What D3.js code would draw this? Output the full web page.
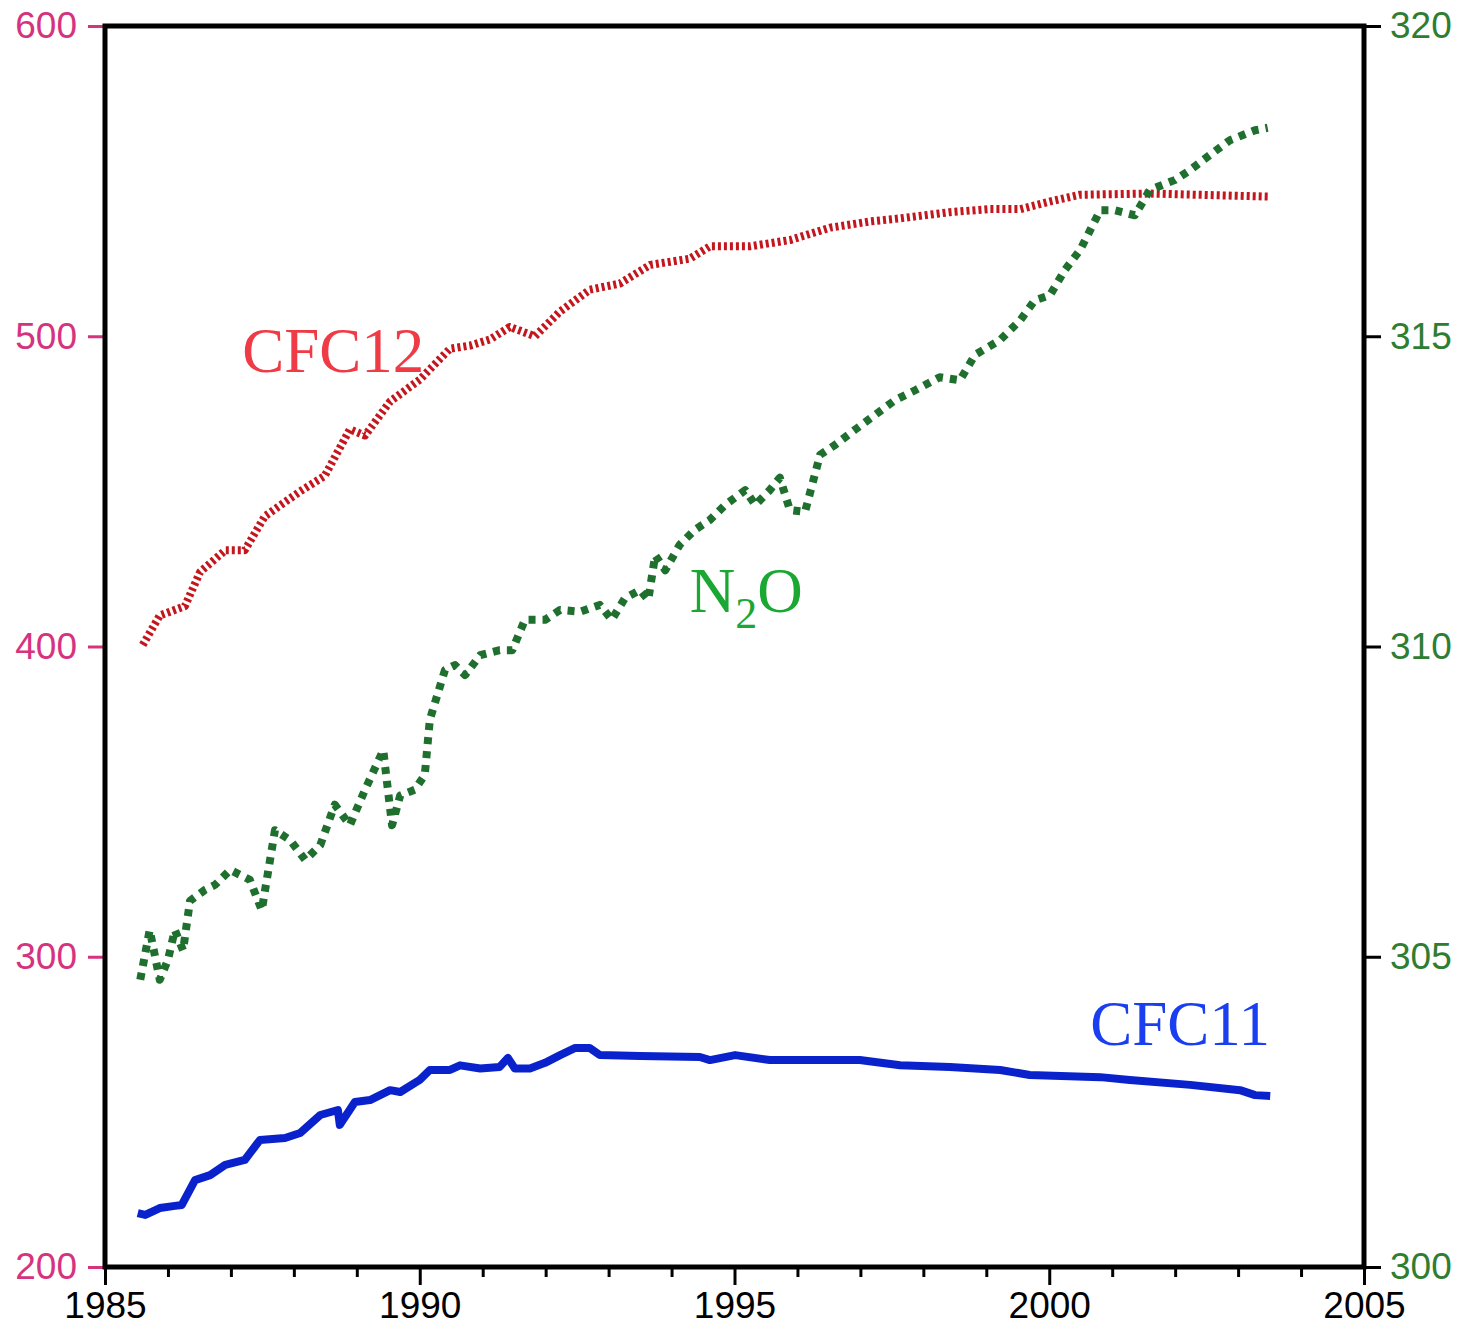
<!DOCTYPE html>
<html>
<head>
<meta charset="utf-8">
<script src="https://cdn.jsdelivr.net/npm/d3@7"></script>
<style>
  body { margin: 0; background: #fff; }
  svg { display: block; }
</style>
</head>
<body>
<div id="chart"></div>
<script>
// Data
const cfc12Years = [1985.60, 1985.87, 1986.27, 1986.51, 1986.91, 1987.22, 1987.54, 1988.10, 1988.49, 1988.89,
  1989.13, 1989.53, 1990.00, 1990.48, 1990.80, 1991.12, 1991.43, 1991.83, 1992.23, 1992.70, 1993.18, 1993.66,
  1994.29, 1994.61, 1995.25, 1995.88, 1996.52, 1997.15, 1997.63, 1998.42, 1999.06, 1999.54, 2000.02, 2000.49,
  2001.60, 2003.51];
const cfc12Values = [400.5, 410, 413, 424, 431, 431, 442, 450, 455, 470,
  468, 479, 486, 496, 497, 499, 503, 500, 508, 515, 517, 523,
  525, 529, 529, 531, 535, 537, 538, 540, 541, 541, 543.5, 545.6,
  546, 545];

const n2oYears = [1985.56, 1985.71, 1985.87, 1986.00, 1986.11, 1986.24, 1986.35, 1986.59, 1986.75, 1986.99,
  1987.30, 1987.49, 1987.70, 1987.94, 1988.18, 1988.42, 1988.65, 1988.89, 1989.13, 1989.42, 1989.56, 1989.69,
  1989.92, 1990.08, 1990.16, 1990.40, 1990.56, 1990.72, 1990.96, 1991.27, 1991.47, 1991.67, 1991.99, 1992.23,
  1992.55, 1992.86, 1993.05, 1993.26, 1993.50, 1993.63, 1993.74, 1993.90, 1994.13, 1994.37, 1994.61, 1994.85,
  1995.17, 1995.33, 1995.56, 1995.72, 1995.88, 1996.12, 1996.36, 1996.60, 1996.91, 1997.23, 1997.55, 1997.87,
  1998.26, 1998.58, 1998.82, 1999.22, 1999.54, 1999.77, 2000.01, 2000.25, 2000.49, 2000.65, 2000.81, 2001.04,
  2001.36, 2001.60, 2002.00, 2002.24, 2002.55, 2002.87, 2003.27, 2003.47];
const n2oValues = [304.63, 305.43, 304.63, 304.95, 305.43, 305.10, 305.90, 306.08, 306.16, 306.40,
  306.24, 305.75, 307.04, 306.88, 306.56, 306.80, 307.45, 307.12, 307.69, 308.33, 307.12, 307.60,
  307.69, 307.93, 308.82, 309.62, 309.70, 309.54, 309.86, 309.94, 309.94, 310.43, 310.43, 310.59,
  310.56, 310.67, 310.43, 310.78, 310.91, 310.75, 311.47, 311.23, 311.64, 311.88, 312.04, 312.28,
  312.52, 312.28, 312.52, 312.72, 312.20, 312.17, 313.09, 313.25, 313.49, 313.73, 313.97, 314.13,
  314.34, 314.29, 314.70, 314.94, 315.26, 315.58, 315.66, 316.07, 316.39, 316.71, 317.03, 317.03,
  316.95, 317.36, 317.52, 317.68, 317.92, 318.16, 318.32, 318.36];

const cfc11Years = [1985.52, 1985.64, 1985.87, 1986.11, 1986.22, 1986.43, 1986.67, 1986.91, 1987.22, 1987.46,
  1987.86, 1988.10, 1988.42, 1988.70, 1988.73, 1988.97, 1989.21, 1989.53, 1989.69, 1990.00, 1990.16, 1990.48,
  1990.64, 1990.96, 1991.27, 1991.40, 1991.51, 1991.75, 1991.99, 1992.23, 1992.47, 1992.70, 1992.86, 1993.50,
  1994.45, 1994.61, 1995.01, 1995.56, 1996.99, 1997.63, 1998.42, 1999.22, 1999.69, 2000.81, 2001.28, 2002.24,
  2003.03, 2003.27, 2003.51];
const cfc11Values = [217.4, 216.8, 219, 219.7, 220, 228, 229.6, 232.9, 234.5, 240.9,
  241.6, 243.2, 249, 250.6, 245.8, 253.2, 253.8, 257, 256.4, 260.3, 263.5, 263.5,
  265, 264, 264.5, 267.4, 264, 264, 265.8, 268.3, 270.6, 270.6, 268.3, 268,
  267.7, 266.7, 268.3, 266.7, 266.7, 265, 264.5, 263.5, 261.9, 261.2, 260.3, 258.7,
  257, 255.4, 255.1];

const xTicks = [1985, 1990, 1995, 2000, 2005];
const leftTicks = [200, 300, 400, 500, 600];
const rightTicks = [300, 305, 310, 315, 320];

const width = 1462;
const height = 1332;
const margin = { top: 26, right: 98, bottom: 65, left: 105 };

const svg = d3.select("#chart").append("svg").attr("width", width).attr("height", height);

const x = d3.scaleLinear().domain([1985, 2005]).range([margin.left, width - margin.right]);
const yLeft = d3.scaleLinear().domain([200, 600]).range([height - margin.bottom, margin.top]);
const yRight = d3.scaleLinear().domain([300, 320]).range([height - margin.bottom, margin.top]);

const tickFont = "'Liberation Sans', Arial, Helvetica, sans-serif";

// Bottom axis: major ticks every 5 years, minor each year
const xAxis = svg.append("g")
  .attr("transform", `translate(0,${height - margin.bottom})`)
  .call(d3.axisBottom(x).tickValues(xTicks).tickFormat(d3.format("d")).tickSize(18).tickPadding(7));
svg.append("g")
  .attr("transform", `translate(0,${height - margin.bottom})`)
  .call(d3.axisBottom(x).tickValues(d3.range(1986, 2005).filter((d) => d % 5 !== 0)).tickFormat("").tickSize(10))
  .call((g) => g.select(".domain").remove());

// Left axis (CFC, ppt)
const leftAxis = svg.append("g")
  .attr("transform", `translate(${margin.left},0)`)
  .call(d3.axisLeft(yLeft).tickValues(leftTicks).tickSize(17).tickPadding(11));
leftAxis.selectAll(".tick line").attr("stroke", "#d6337f");
leftAxis.selectAll(".tick text").attr("fill", "#d6337f");

// Right axis (N2O, ppb)
const rightAxis = svg.append("g")
  .attr("transform", `translate(${width - margin.right},0)`)
  .call(d3.axisRight(yRight).tickValues(rightTicks).tickSize(17).tickPadding(9));
rightAxis.selectAll(".tick text").attr("fill", "#2e7d32");

svg.selectAll(".domain").remove();
svg.selectAll(".tick line").attr("stroke-width", 3);
svg.selectAll(".tick text").style("font-family", tickFont).style("font-size", "37px");
xAxis.selectAll(".tick line").attr("stroke", "#000");

// Frame
svg.append("rect")
  .attr("x", margin.left)
  .attr("y", margin.top)
  .attr("width", width - margin.left - margin.right)
  .attr("height", height - margin.top - margin.bottom)
  .attr("fill", "none")
  .attr("stroke", "#000")
  .attr("stroke-width", 5);

function drawSeries(years, values, yScale, color, strokeWidth, dash) {
  const pts = years.map((yr, i) => [yr, values[i]]);
  const line = d3.line().x((d) => x(d[0])).y((d) => yScale(d[1]));
  svg.append("path")
    .datum(pts)
    .attr("d", line)
    .attr("fill", "none")
    .attr("stroke", color)
    .attr("stroke-width", strokeWidth)
    .attr("stroke-linejoin", "round")
    .attr("stroke-dasharray", dash);
}

drawSeries(cfc12Years, cfc12Values, yLeft, "#c4161c", 8, "3,3");
drawSeries(n2oYears, n2oValues, yRight, "#1f6f2e", 8, "7,7");
drawSeries(cfc11Years, cfc11Values, yLeft, "#0a22cc", 8, null);

// Series labels
const labelFont = "'Liberation Serif', 'Times New Roman', serif";

svg.append("text")
  .attr("x", x(1987.18))
  .attr("y", yLeft(488.5))
  .attr("fill", "#ef3b45")
  .style("font-family", labelFont)
  .style("font-size", "63px")
  .text("CFC12");

const n2o = svg.append("text")
  .attr("x", x(1994.29))
  .attr("y", yRight(310.56))
  .attr("fill", "#1aa832")
  .style("font-family", labelFont)
  .style("font-size", "63px");
n2o.append("tspan").text("N");
n2o.append("tspan").attr("dy", 16).style("font-size", "44px").text("2");
n2o.append("tspan").attr("dy", -16).text("O");

svg.append("text")
  .attr("x", x(2000.65))
  .attr("y", yLeft(271.6))
  .attr("fill", "#1a3ff0")
  .style("font-family", labelFont)
  .style("font-size", "63px")
  .text("CFC11");
</script>
</body>
</html>
